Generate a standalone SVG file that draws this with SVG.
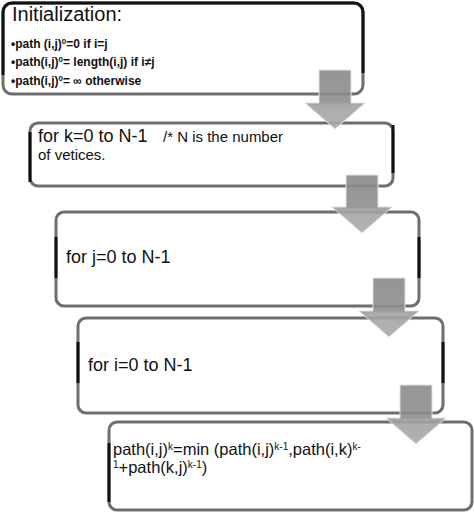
<svg xmlns="http://www.w3.org/2000/svg" width="474" height="513" viewBox="0 0 474 513">
<defs>
<linearGradient id="ag" x1="0" y1="0" x2="0" y2="1">
<stop offset="0" stop-color="#8a8a8a"/>
<stop offset="0.55" stop-color="#8e8e8e"/>
<stop offset="0.6" stop-color="#a2a2a2"/>
<stop offset="1" stop-color="#ababab"/>
</linearGradient>
<style>
.box{fill:#fff;stroke:#6e6e6e;stroke-width:3}
.dark{fill:none;stroke:#111;stroke-width:3}
.arrow{fill:url(#ag);fill-opacity:0.9;stroke:#e2e2e2;stroke-width:1}
text{font-family:"Liberation Sans",Arial,sans-serif;fill:#111}
.big{font-size:18px}
.mid{font-size:15px}
.bul{font-size:12px;font-weight:bold}
.f{font-size:16.5px}
</style>
</defs>
<rect width="474" height="513" fill="#fff"/>
<g id="init">
<rect class="box" x="3" y="3" width="360" height="91" rx="9"/>
<path class="dark" d="M3,75 V12 A9,9 0 0 1 12,3 H354 A9,9 0 0 1 363,12 V73"/>
<text x="12" y="21" style="font-size:20px">Initialization:</text>
<text class="bul" x="11" y="48">•path (i,j)<tspan dy="-4" font-size="8">0</tspan><tspan dy="4">=0 if i=j</tspan></text>
<text class="bul" x="11" y="66">•path(i,j)<tspan dy="-4" font-size="8">0</tspan><tspan dy="4">= length(i,j) if i≠j</tspan></text>
<text class="bul" x="11" y="85">•path(i,j)<tspan dy="-4" font-size="8">0</tspan><tspan dy="4">= ∞ otherwise</tspan></text>
</g>
<g id="loop-k">
<rect class="box" x="30" y="123" width="363" height="63" rx="8"/>
<path class="dark" d="M30,132 V182 M393,125 V173"/>
<text class="big" x="38" y="142">for k=0 to N-1</text>
<text class="mid" x="163" y="142">/*  N is the number</text>
<text class="mid" x="38" y="160">of vetices.</text>
</g>
<g id="loop-j">
<rect class="box" x="56" y="212" width="363" height="94" rx="8"/>
<path class="dark" d="M56,237 V278 M419,237 V278"/>
<text class="big" x="66" y="263">for j=0 to N-1</text>
</g>
<g id="loop-i">
<rect class="box" x="78" y="318" width="365" height="95" rx="8"/>
<path class="dark" d="M78,342 V383 M443,342 V383"/>
<text class="big" x="88" y="371">for i=0 to N-1</text>
</g>
<g id="update">
<rect class="box" x="109" y="422" width="363" height="88" rx="8"/>
<path class="dark" d="M109,443 V502"/>
<text class="f" x="113" y="455">path(i,j)<tspan dy="-5" font-size="10">k</tspan><tspan dy="5">=min (path(i,j)</tspan><tspan dy="-5" font-size="10">k-1</tspan><tspan dy="5">,path(i,k)</tspan><tspan dy="-5" font-size="10">k-</tspan></text>
<text class="f" x="113" y="473"><tspan dy="-5" font-size="10">1</tspan><tspan dy="5">+path(k,j)</tspan><tspan dy="-5" font-size="10">k-1</tspan><tspan dy="5">)</tspan></text>
</g>
<g id="connectors">
<polygon class="arrow" points="319,70 351,70 351,103 365,103 335,129 305,103 319,103"/>
<polygon class="arrow" points="346,175 378,175 378,207 392,207 362,233 332,207 346,207"/>
<polygon class="arrow" points="373,278 405,278 405,311 419,311 389,337 359,311 373,311"/>
<polygon class="arrow" points="400,385 432,385 432,418 446,418 416,444 386,418 400,418"/>
</g>
</svg>
